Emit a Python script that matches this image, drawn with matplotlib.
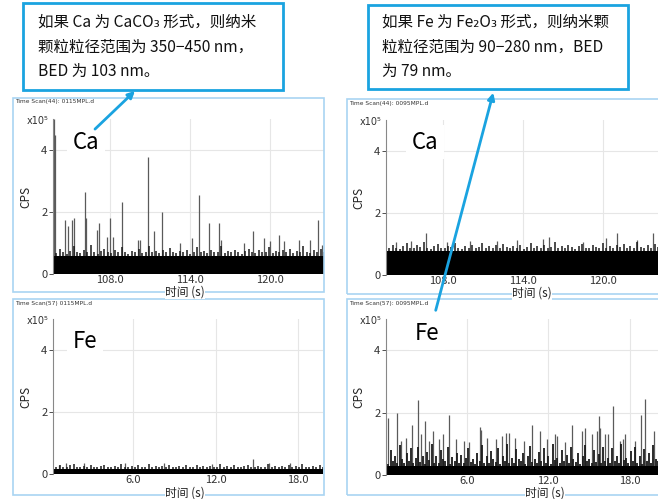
import numpy as np
import matplotlib
matplotlib.use("Agg")
import matplotlib.pyplot as plt
from matplotlib.patches import Rectangle, FancyArrowPatch

plt.rcParams['font.family'] = ['Noto Sans CJK SC', 'DejaVu Sans']

W, H = 658, 499

# ---- data (CPS in units of 1e5) ----
# top-left: Ca, 0115MPL
ca1_xlim = (103.72, 124.05)
ca1_base = 0.58
ca1_fringe = [0.72, 0.68, 0.8, 0.7, 0.66, 0.75, 0.9, 0.7, 0.68, 0.78, 0.72, 0.95, 0.7, 0.66,
              0.74, 0.82, 0.7, 0.68, 0.76, 0.72, 0.88, 0.7, 0.66, 0.74, 0.7, 0.8, 0.68, 0.72,
              0.9, 0.7, 0.74, 0.68, 0.76, 0.7, 0.84, 0.72, 0.68, 0.74, 0.7, 0.78, 0.66, 0.72,
              0.86, 0.7, 0.74, 0.68, 0.76, 0.7, 0.72, 0.9, 0.68, 0.74, 0.7, 0.78, 0.72, 0.66,
              0.74, 0.82, 0.7, 0.68, 0.76, 0.72, 0.7, 0.88, 0.68, 0.74, 0.7, 0.76, 0.72, 0.8,
              0.68, 0.74, 0.7, 0.9, 0.72, 0.68, 0.76, 0.7, 0.8, 0.72]
ca1_t = [103.76, 103.78, 103.9, 104.65, 104.87, 105.13, 105.28, 106.13, 106.2, 107.0, 107.18,
         107.75, 108.0, 108.25, 108.9, 110.08, 110.25, 110.87, 111.32, 111.88, 113.25, 114.13,
         114.7, 115.45, 116.18, 116.33, 118.07, 118.7, 119.57, 120.0, 120.7, 121.05, 122.18,
         123.0, 123.58, 123.88]
ca1_v = [1.2, 5.0, 4.5, 1.74, 1.55, 1.74, 1.8, 2.65, 1.8, 1.42, 1.63,
         1.2, 1.8, 1.2, 2.33, 1.1, 1.1, 3.78, 1.38, 2.0, 1.0, 1.15,
         2.55, 1.65, 1.65, 1.1, 1.0, 1.38, 1.15, 1.05, 1.25, 1.05, 1.1,
         1.1, 1.73, 0.95]

# top-right: Ca, 0095MPL
ca2_xlim = (103.72, 124.1)
ca2_base = 0.78
ca2_fringe = [0.9, 0.86, 0.98, 0.88, 0.84, 0.95, 1.02, 0.88, 0.86, 0.96, 0.9, 1.05, 0.88, 0.84,
              0.94, 1.0, 0.88, 0.86, 0.95, 0.9, 1.04, 0.88, 0.84, 0.93, 0.88, 0.98, 0.86, 0.9,
              1.02, 0.88, 0.94, 0.86, 0.96, 0.88, 1.0, 0.9, 0.86, 0.94, 0.88, 0.98, 0.84, 0.9,
              1.03, 0.88, 0.94, 0.86, 0.96, 0.88, 0.9, 1.05, 0.86, 0.94, 0.88, 0.98, 0.9, 0.84,
              0.94, 1.0, 0.88, 0.86, 0.96, 0.9, 0.88, 1.04, 0.86, 0.94, 0.88, 0.96, 0.9, 1.0,
              0.86, 0.94, 0.88, 1.05, 0.9, 0.86, 0.96, 0.88, 1.0, 0.9]
ca2_t = [104.5, 105.6, 106.7, 108.3, 110.0, 112.0, 113.5, 115.5, 115.9, 118.5, 120.2,
         121.0, 122.5, 123.7]
ca2_v = [1.05, 1.1, 1.34, 1.08, 1.1, 1.1, 1.12, 1.15, 1.24, 1.08, 1.2,
         1.37, 1.12, 1.34]

# bottom-left: Fe, 0115MPL
fe1_xlim = (0.18, 19.8)
fe1_base = 0.17
fe1_fringe = [0.26, 0.22, 0.3, 0.24, 0.21, 0.28, 0.33, 0.23, 0.22, 0.27, 0.24, 0.3, 0.22, 0.21,
              0.26, 0.29, 0.23, 0.22, 0.27, 0.24, 0.32, 0.22, 0.21, 0.26, 0.23, 0.28, 0.22, 0.24,
              0.31, 0.23, 0.26, 0.22, 0.27, 0.23, 0.29, 0.24, 0.22, 0.26, 0.23, 0.28, 0.21, 0.24,
              0.3, 0.23, 0.26, 0.22, 0.27, 0.23, 0.24, 0.31, 0.22, 0.26, 0.23, 0.28, 0.24, 0.21,
              0.26, 0.29, 0.23, 0.22, 0.27, 0.24, 0.23, 0.32, 0.22, 0.26, 0.23, 0.27, 0.24, 0.29,
              0.22, 0.26, 0.23, 0.31, 0.24, 0.22, 0.27, 0.23, 0.29, 0.24]
fe1_t = [0.6, 1.13, 2.4, 5.4, 8.25, 11.7, 14.68, 15.9, 17.4]
fe1_v = [0.3, 0.35, 0.35, 0.36, 0.36, 0.33, 0.5, 0.36, 0.36]

# bottom-right: Fe, 0095MPL
fe2_xlim = (0.0, 20.1)
fe2_base = 0.3
fe2_fringe = [0.5, 0.35, 0.8, 0.45, 0.6, 0.4, 0.95, 0.5, 0.38, 0.7, 0.45, 0.85, 0.4, 0.55,
              0.9, 0.42, 0.6, 0.36, 0.75, 0.48, 1.0, 0.4, 0.62, 0.38, 0.8, 0.5, 0.44, 0.9,
              0.36, 0.58, 0.45, 0.72, 0.4, 0.65, 0.38, 0.55, 0.85, 0.42, 0.5, 0.36, 0.7, 0.45,
              0.95, 0.4, 0.6, 0.38, 0.78, 0.5, 0.42, 0.88, 0.36, 0.62, 0.45, 1.0, 0.4, 0.55,
              0.38, 0.82, 0.5, 0.44, 0.7, 0.36, 0.6, 0.92, 0.42, 0.5, 0.38, 0.75, 0.45, 0.85,
              0.4, 0.62, 0.36, 0.98, 0.48, 0.55, 0.4, 0.8, 0.44, 0.65, 0.38, 0.9, 0.5, 0.42,
              0.72, 0.36, 0.6, 0.95, 0.45, 0.5, 0.38, 0.8, 0.42, 0.68, 0.4, 0.9, 0.46, 0.55,
              0.38, 0.85, 0.44, 0.62, 0.4, 1.0, 0.48, 0.55, 0.38, 0.78, 0.45, 0.9, 0.4, 0.6,
              0.36, 0.82, 0.46, 0.7, 0.4, 0.95, 0.5, 0.44]
fe2_t = [0.15, 0.81, 1.1, 1.45, 1.93, 2.37, 2.6, 2.91, 3.2, 3.48, 3.9, 4.2, 4.64, 5.19, 5.75,
         6.1, 6.94, 7.05, 7.5, 8.1, 8.6, 8.84, 9.1, 9.5, 10.2, 10.81, 11.38, 11.9, 12.5, 12.6,
         13.2, 13.78, 14.5, 14.72, 15.2, 15.56, 15.75, 15.85, 16.2, 16.44, 16.8, 17.3, 17.5,
         17.63, 18.4, 18.84, 19.16, 19.78]
fe2_v = [1.82, 2.0, 1.1, 1.2, 1.6, 2.4, 1.3, 1.74, 1.1, 1.41, 1.15, 1.3, 1.92, 1.15, 1.1,
         1.05, 1.53, 1.45, 1.2, 1.15, 1.25, 1.34, 1.34, 1.2, 1.1, 1.6, 1.4, 1.15, 1.3, 1.25,
         1.05, 1.6, 1.4, 1.5, 1.3, 1.4, 1.9, 1.5, 1.3, 1.3, 2.21, 1.1, 1.15, 1.3, 1.1, 1.92,
         2.42, 1.4]

ca_ticks = [108.0, 114.0, 120.0]
fe_ticks = [6.0, 12.0, 18.0]

BLUE = '#1aa3e0'
FRAME = '#a9d4f2'

fig = plt.figure(figsize=(W / 100, H / 100), dpi=100)


def fpos(x0, y0, x1, y1):
    # pixel box (top-left origin) -> figure fraction [l, b, w, h]
    return [x0 / W, 1 - y1 / H, (x1 - x0) / W, (y1 - y0) / H]


def fxy(x, y):
    return (x / W, 1 - y / H)


def panel(box, xlim, ticks, base, fringe, st, sv, frame, title, elem, elem_xy, xlab_xy,
          fringe_lw=1.1):
    fx0, fy0, fx1, fy1 = frame
    fig.patches.append(Rectangle(fxy(fx0, fy1), (fx1 - fx0) / W, (fy1 - fy0) / H,
                                 transform=fig.transFigure, fill=False,
                                 edgecolor=FRAME, lw=1.2, zorder=0))
    fig.text(*fxy(fx0 + 2, fy0 + 4), title, fontsize=4.2, va='center', ha='left',
             color='#333333', family=['DejaVu Sans'])
    ax = fig.add_axes(fpos(*box))
    ax.set_facecolor('none')
    ax.set_xlim(*xlim)
    ax.set_ylim(0, 5.0)
    ax.vlines(st, 0, sv, color='#5a5a5a', lw=0.9, zorder=1.5)
    ax.vlines(np.linspace(xlim[0], xlim[1], len(fringe)), 0, fringe,
              color='#1a1a1a', lw=fringe_lw, zorder=2)
    ax.fill_between(list(xlim), 0, base, color='black', lw=0, zorder=2.5)
    ax.set_xticks(ticks)
    ax.set_xticklabels([f'{t:.1f}' for t in ticks])
    ax.set_yticks([0, 2, 4])
    ax.grid(True, color='#e6e6e6', lw=0.8)
    ax.set_axisbelow(True)
    for s in ['top', 'right', 'bottom']:
        ax.spines[s].set_visible(False)
    ax.spines['left'].set_color('#888888')
    ax.spines['left'].set_linewidth(0.8)
    ax.tick_params(axis='x', length=0, labelsize=8, colors='#333333', pad=1)
    ax.tick_params(axis='y', length=3, width=0.6, labelsize=8, colors='#333333', pad=1)
    ax.set_ylabel('CPS', fontsize=8.5, labelpad=6, color='#222222')
    fig.text(*fxy(box[0] - 26, box[1] + 2), 'x10⁵', fontsize=7, color='#333333',
             va='center', ha='left', family=['DejaVu Sans'])
    fig.text(*fxy(*elem_xy), elem, fontsize=16, ha='center', va='center',
             bbox=dict(facecolor='white', edgecolor='none', pad=4), zorder=5)
    fig.text(*fxy(*xlab_xy), '时间 (s)', fontsize=8.5, ha='center', va='center',
             color='#222222', bbox=dict(facecolor='white', edgecolor='none', pad=0.3),
             zorder=5)
    return ax


panel((53, 119, 324, 274), ca1_xlim, ca_ticks, ca1_base, ca1_fringe, ca1_t, ca1_v,
      (13, 98, 324, 292), 'Time Scan(44): 0115MPL.d', 'Ca', (86, 142), (185, 292))
panel((386, 120, 658, 275), ca2_xlim, ca_ticks, ca2_base, ca2_fringe, ca2_t, ca2_v,
      (347, 99, 700, 294), 'Time Scan(44): 0095MPL.d', 'Ca', (425, 142), (532, 293))
panel((53, 319, 323, 474), fe1_xlim, fe_ticks, fe1_base, fe1_fringe, fe1_t, fe1_v,
      (13, 299, 324, 495), 'Time Scan(57) 0115MPL.d', 'Fe', (85, 342), (185, 493))
panel((386, 319, 658, 475), fe2_xlim, fe_ticks, fe2_base, fe2_fringe, fe2_t, fe2_v,
      (347, 299, 700, 495), 'Time Scan(57): 0095MPL.d', 'Fe', (427, 333), (545, 493),
      fringe_lw=1.3)

# annotation boxes
notes = [
    ((23, 3, 283, 90), (38, 47),
     '如果 Ca 为 CaCO₃ 形式，则纳米\n颗粒粒径范围为 350−450 nm，\nBED 为 103 nm。'),
    ((368, 5, 628, 89), (382, 47),
     '如果 Fe 为 Fe₂O₃ 形式，则纳米颗\n粒粒径范围为 90−280 nm，BED\n为 79 nm。'),
]
for (x0, y0, x1, y1), txy, txt in notes:
    fig.patches.append(Rectangle(fxy(x0, y1), (x1 - x0) / W, (y1 - y0) / H,
                                 transform=fig.transFigure, facecolor='white',
                                 edgecolor=BLUE, lw=2, zorder=6))
    fig.text(*fxy(*txy), txt, fontsize=11.2, linespacing=1.6, ha='left', va='center',
             color='#111111', zorder=7)

# arrows from element labels to the boxes
for start, end in [((93, 131), (137, 89)), ((435, 313), (494, 90))]:
    fig.add_artist(FancyArrowPatch(
        fxy(*start), fxy(*end), transform=fig.transFigure, arrowstyle='-|>',
        mutation_scale=10, color=BLUE, lw=2, zorder=8))

fig.savefig('out.png', dpi=100)
